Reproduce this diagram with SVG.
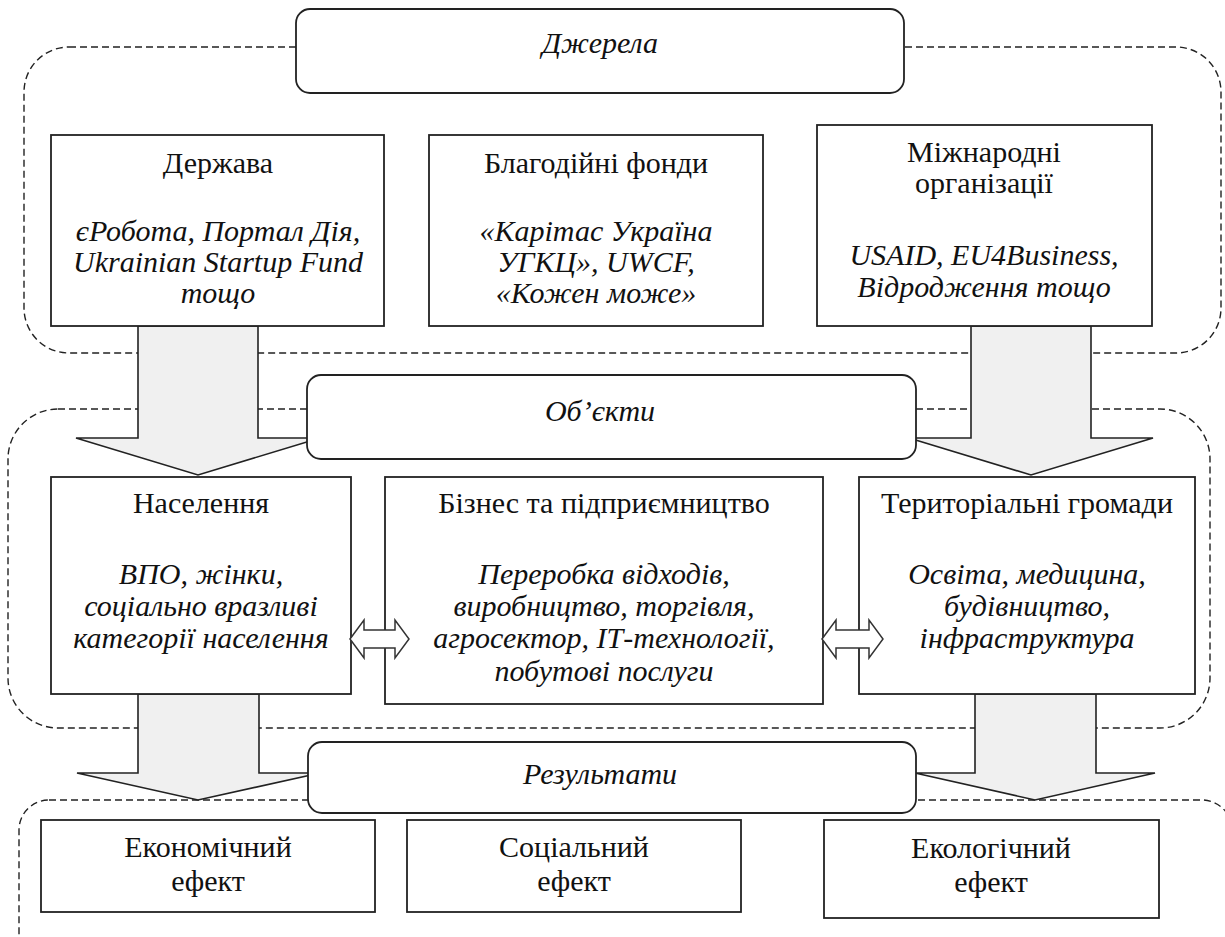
<svg xmlns="http://www.w3.org/2000/svg" width="1225" height="937" viewBox="0 0 1225 937">
<style>
.grp{fill:none;stroke:#222;stroke-width:1.4;stroke-dasharray:7 4}
.box{fill:#fff;stroke:#222;stroke-width:1.8}
.lbl{fill:#fff;stroke:#222;stroke-width:1.8}
.arr{fill:#f0f0f0;stroke:#222;stroke-width:1.6;stroke-linejoin:miter}
.dbl{fill:#fff;stroke:#333;stroke-width:1.5}
text{font-family:"Liberation Serif","Times New Roman",serif;font-size:30px;fill:#111;text-anchor:middle}
.it{font-style:italic}
</style>
<g id="groups">
<rect class="grp" x="24" y="47" width="1197" height="306" rx="45"/>
<rect class="grp" x="8" y="409" width="1202" height="319" rx="50"/>
<rect class="grp" x="19" y="800" width="1213" height="170" rx="30"/>
</g>
<g id="connectors">
<polygon class="arr" points="138,326 258,326 258,438 320,438 198,475 76,438 138,438"/>
<polygon class="arr" points="971,326 1091,326 1091,438 1153,438 1031,475 909,438 971,438"/>
<polygon class="arr" points="138,694 259,694 259,773 320,773 198,800 77,773 138,773"/>
<polygon class="arr" points="975,694 1096,694 1096,773 1155,773 1035,800 915,773 975,773"/>
</g>
<g id="label-dzherela"><rect class="lbl" x="296" y="9" width="608" height="84" rx="14"/><text class="it" x="600" y="53">Джерела</text></g>
<g id="label-obiekty"><rect class="lbl" x="307" y="375" width="609" height="84" rx="14"/><text class="it" x="600" y="421">Об’єкти</text></g>
<g id="label-rezultaty"><rect class="lbl" x="308" y="742" width="608" height="71" rx="14"/><text class="it" x="600" y="784">Результати</text></g>
<g id="derzhava"><rect class="box" x="51" y="135" width="333" height="191"/>
<text x="218" y="173">Держава</text>
<text class="it" x="218" y="241">єРобота, Портал Дія,</text>
<text class="it" x="218" y="272">Ukrainian Startup Fund</text>
<text class="it" x="218" y="303">тощо</text></g>
<g id="fondy"><rect class="box" x="429" y="135" width="334" height="191"/>
<text x="596" y="173">Благодійні фонди</text>
<text class="it" x="596" y="241">«Карітас Україна</text>
<text class="it" x="596" y="272">УГКЦ», UWCF,</text>
<text class="it" x="596" y="303">«Кожен може»</text></g>
<g id="mizhnarodni"><rect class="box" x="817" y="125" width="335" height="201"/>
<text x="984" y="162">Міжнародні</text>
<text x="984" y="193">організації</text>
<text class="it" x="984" y="265">USAID, EU4Business,</text>
<text class="it" x="984" y="297">Відродження тощо</text></g>
<g id="naselennia"><rect class="box" x="51" y="477" width="300" height="217"/>
<text x="201" y="513">Населення</text>
<text class="it" x="201" y="584">ВПО, жінки,</text>
<text class="it" x="201" y="616">соціально вразливі</text>
<text class="it" x="201" y="648">категорії населення</text></g>
<g id="biznes"><rect class="box" x="385" y="477" width="438" height="227"/>
<text x="604" y="513">Бізнес та підприємництво</text>
<text class="it" x="604" y="584">Переробка відходів,</text>
<text class="it" x="604" y="616">виробництво, торгівля,</text>
<text class="it" x="604" y="648">агросектор, ІТ-технології,</text>
<text class="it" x="604" y="681">побутові послуги</text></g>
<g id="hromady"><rect class="box" x="859" y="477" width="336" height="217"/>
<text x="1027" y="513">Територіальні громади</text>
<text class="it" x="1027" y="584">Освіта, медицина,</text>
<text class="it" x="1027" y="616">будівництво,</text>
<text class="it" x="1027" y="648">інфраструктура</text></g>
<g id="links">
<polygon class="dbl" points="350,639 364,620 364,630 395,630 395,620 409,639 395,658 395,648 364,648 364,658"/>
<polygon class="dbl" points="822,639 836,620 836,630 869,630 869,620 883,639 869,658 869,648 836,648 836,658"/>
</g>
<g id="ekonomichnyi"><rect class="box" x="41" y="820" width="334" height="92"/>
<text x="208" y="857">Економічний</text><text x="208" y="891">ефект</text></g>
<g id="sotsialnyi"><rect class="box" x="407" y="820" width="334" height="92"/>
<text x="574" y="857">Соціальний</text><text x="574" y="891">ефект</text></g>
<g id="ekolohichnyi"><rect class="box" x="824" y="820" width="335" height="98"/>
<text x="991" y="858">Екологічний</text><text x="991" y="892">ефект</text></g>
</svg>
